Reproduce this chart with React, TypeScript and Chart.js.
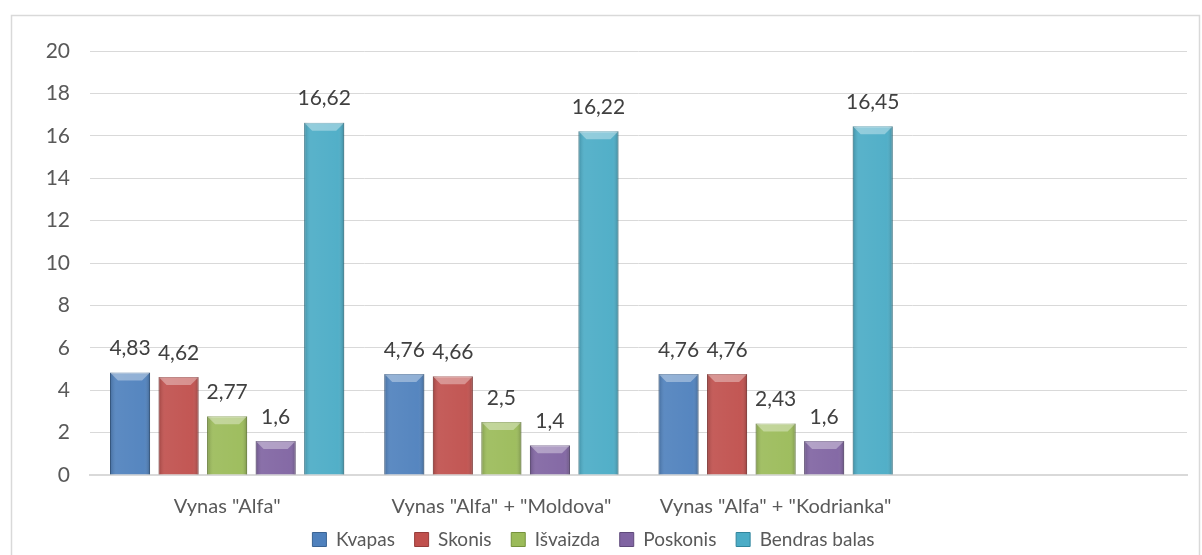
import React, { useEffect, useRef } from "react";
import { Chart, registerables } from "chart.js";

Chart.register(...registerables);

const categories = ['Vynas "Alfa"', 'Vynas "Alfa" + "Moldova"', 'Vynas "Alfa" + "Kodrianka"', ""];
const kvapas = [4.83, 4.76, 4.76, null];
const skonis = [4.62, 4.66, 4.76, null];
const isvaizda = [2.77, 2.5, 2.43, null];
const poskonis = [1.6, 1.4, 1.6, null];
const bendras = [16.62, 16.22, 16.45, null];
const seriesNames = ["Kvapas", "Skonis", "Išvaizda", "Poskonis", "Bendras balas"];
const seriesColors = ["#4F81BD", "#C0504D", "#9BBB59", "#8064A2", "#4BACC6"];
const seriesBorders = ["#3A6393", "#963C3A", "#76923C", "#5F4A7B", "#31859C"];

const FONT = "Lato, 'Open Sans', sans-serif";

const borderPlugin = {
  id: "outerBorder",
  beforeDraw(chart: any) {
    const ctx = chart.ctx;
    ctx.save();
    ctx.fillStyle = "#ffffff";
    ctx.fillRect(0, 0, chart.width, chart.height);
    ctx.strokeStyle = "#d9d9d9";
    ctx.lineWidth = 1.5;
    ctx.strokeRect(11.5, 15.5, 1188, 600);
    ctx.restore();
  },
};

const barDecorPlugin = {
  id: "barDecor",
  afterDatasetsDraw(chart: any) {
    const ctx = chart.ctx;
    ctx.save();
    chart.data.datasets.forEach((ds: any, di: number) => {
      const meta = chart.getDatasetMeta(di);
      meta.data.forEach((el: any, i: number) => {
        const v = ds.data[i];
        if (v === null || v === undefined) return;
        const left = el.x - el.width / 2;
        const right = el.x + el.width / 2;
        const top = el.y;
        const bottom = el.base;
        const g = ctx.createLinearGradient(left, 0, right, 0);
        g.addColorStop(0, "rgba(0,0,0,0.18)");
        g.addColorStop(0.15, "rgba(255,255,255,0.08)");
        g.addColorStop(0.85, "rgba(255,255,255,0.04)");
        g.addColorStop(1, "rgba(0,0,0,0.22)");
        ctx.fillStyle = g;
        ctx.fillRect(left, top, right - left, bottom - top);
        const bev = Math.min(8, (bottom - top) / 3);
        ctx.fillStyle = "rgba(255,255,255,0.35)";
        ctx.beginPath();
        ctx.moveTo(left, top);
        ctx.lineTo(right, top);
        ctx.lineTo(right - bev, top + bev);
        ctx.lineTo(left + bev, top + bev);
        ctx.closePath();
        ctx.fill();
        ctx.fillStyle = "#404040";
        ctx.font = "21px " + FONT;
        ctx.textAlign = "center";
        ctx.textBaseline = "middle";
        ctx.fillText(String(v).replace(".", ","), el.x, top - 24);
      });
    });
    ctx.restore();
  },
};

export default function App() {
  const ref = useRef<HTMLCanvasElement | null>(null);
  useEffect(() => {
    if (!ref.current) return;
    const dataArrays = [kvapas, skonis, isvaizda, poskonis, bendras];
    const chart = new Chart(ref.current, {
      type: "bar",
      data: {
        labels: categories,
        datasets: dataArrays.map((d, i) => ({
          label: seriesNames[i],
          data: d,
          backgroundColor: seriesColors[i],
          borderColor: seriesBorders[i],
          borderWidth: 1,
          barPercentage: 0.825,
          categoryPercentage: 0.885,
        })),
      },
      options: {
        responsive: false,
        animation: false,
        layout: { padding: { top: 51, right: 15, left: 0, bottom: -4 } },
        plugins: {
          legend: {
            position: "bottom",
            labels: {
              color: "#595959",
              font: { family: FONT, size: 19 },
              boxWidth: 14,
              boxHeight: 14,
              padding: 10,
              generateLabels(chart: any) {
                const items = (Chart as any).defaults.plugins.legend.labels.generateLabels(chart);
                return items.map((it: any, idx: number) => ({
                  ...it,
                  text: idx < items.length - 1 ? it.text + "  " : it.text,
                }));
              },
            },
          },
          tooltip: { enabled: false },
        },
        scales: {
          x: {
            grid: { display: false, drawTicks: false },
            border: { display: true, color: "#d9d9d9", width: 2 },
            ticks: {
              color: "#595959",
              font: { family: FONT, size: 20 },
              padding: 20,
              maxRotation: 0,
              autoSkip: false,
            },
            afterFit(scale: any) {
              scale.height = 45;
            },
          },
          y: {
            min: 0,
            max: 20,
            grid: { color: "#d9d9d9", drawTicks: false },
            border: { display: false },
            ticks: {
              stepSize: 2,
              color: "#595959",
              font: { family: FONT, size: 21 },
              padding: 20,
            },
            afterFit(scale: any) {
              scale.width = 90;
            },
          },
        },
      },
      plugins: [borderPlugin, barDecorPlugin],
    });
    return () => chart.destroy();
  }, []);
  return (
    <div style={{ position: "absolute", left: 0, top: 0, width: 1202, height: 555, overflow: "hidden" }}>
      <canvas ref={ref} width={1202} height={555} style={{ display: "block" }} />
    </div>
  );
}
